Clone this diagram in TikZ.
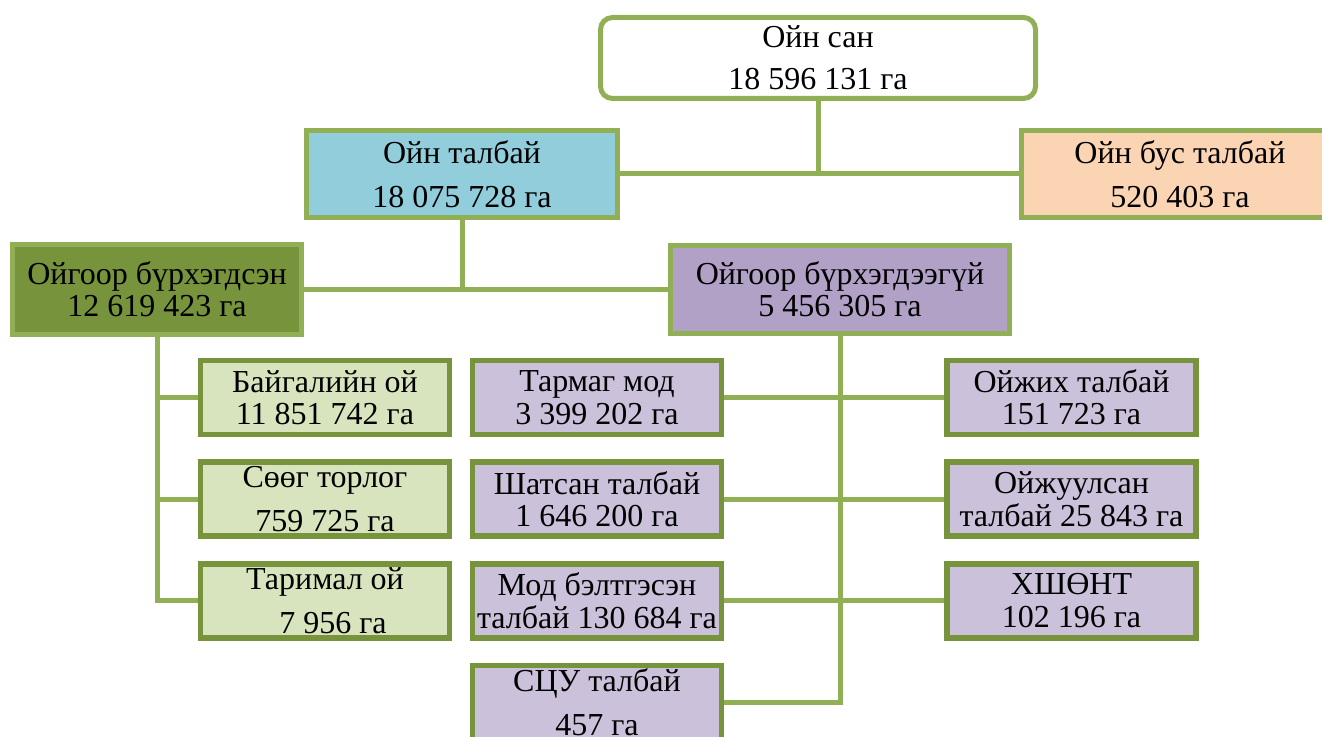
\documentclass[tikz,border=0pt]{standalone}
\usepackage{fontspec}
\setmainfont{Liberation Serif}
\usepackage{tikz}
\usetikzlibrary{positioning}

\definecolor{lgreen}{RGB}{145,175,85}
\definecolor{dgreen}{RGB}{119,147,60}
\definecolor{skyfill}{RGB}{146,205,220}
\definecolor{peachfill}{RGB}{251,212,180}
\definecolor{purpfill}{RGB}{178,161,199}
\definecolor{lpurpfill}{RGB}{204,193,218}
\definecolor{lgfill}{RGB}{215,228,189}

\tikzset{
  box/.style={draw=lgreen, line width=2.5pt, inner sep=0pt, align=center,
    font=\fontsize{16}{16.2}\selectfont},
  leaf/.style={box, draw=dgreen, line width=2.8pt,
    minimum width=124.5pt, minimum height=37pt},
  link/.style={draw=lgreen, line width=2.5pt}
}

\begin{document}
\begin{tikzpicture}[x=0.5pt,y=-0.5pt,node distance=50.8pt,on grid]
   \useasboundingbox (0,0) rectangle (1322,737);

   \node[box, fill=white, rounded corners=6pt, minimum width=217.5pt, minimum height=40.5pt]
     (top) at (818,58) {Ойн сан\\[5pt]18 596 131 га};
   \node[box, fill=skyfill, minimum width=155.5pt, minimum height=43.5pt]
     (forest) at (462,174) {Ойн талбай\\[6pt]18 075 728 га};
   \node[box, fill=peachfill, minimum width=158.5pt, minimum height=43.5pt]
     (nonforest) at (1180,174) {Ойн бус талбай\\[6pt]520 403 га};
   \node[box, fill=dgreen, minimum width=144.5pt, minimum height=45pt]
     (covered) at (157,289.5) {Ойгоор бүрхэгдсэн\\12 619 423 га};
   \node[box, fill=purpfill, minimum width=169.5pt, minimum height=44pt]
     (uncovered) at (840,289.5) {Ойгоор бүрхэгдээгүй\\5 456 305 га};

   % covered forest
   \node[leaf, fill=lgfill] (natural) at (325,397.5) {Байгалийн ой\\11 851 742 га};
   \node[leaf, fill=lgfill] (shrub)   [below=of natural] {Сөөг торлог\\[6pt]759 725 га};
   \node[leaf, fill=lgfill] (planted) [below=of shrub]   {Таримал ой\\[6pt]\enspace 7 956 га};

   % not covered
   \node[leaf, fill=lpurpfill] (sparse) at (597,397.5) {Тармаг мод\\3 399 202 га};
   \node[leaf, fill=lpurpfill] (burnt)  [below=of sparse] {Шатсан талбай\\1 646 200 га};
   \node[leaf, fill=lpurpfill] (logged) [below=of burnt]  {Мод бэлтгэсэн\\талбай 130 684 га};
   \node[leaf, fill=lpurpfill] (scu)    [below=of logged] {СЦУ талбай\\[6pt]457 га};

   \node[leaf, fill=lpurpfill] (regen)   at (1071.5,397.5) {Ойжих талбай\\151 723 га};
   \node[leaf, fill=lpurpfill] (refor)   [below=of regen]  {Ойжуулсан\\талбай 25 843 га};
   \node[leaf, fill=lpurpfill] (hshont)  [below=of refor]  {ХШӨНТ\\102 196 га};

   \path[link]
    (top.south) -- (top.south |- forest.east)
    (forest.east) -- (nonforest.west)
    (forest.south) -- (forest.south |- covered.east)
    (covered.east) -- (uncovered.west);
   \path[link]
    (covered.south) |- (natural.west)
    (covered.south) |- (shrub.west)
    (covered.south) |- (planted.west);
   \path[link]
    (uncovered.south) |- (sparse.east)
    (uncovered.south) |- (burnt.east)
    (uncovered.south) |- (logged.east)
    (uncovered.south) |- (scu.east)
    (uncovered.south) |- (regen.west)
    (uncovered.south) |- (refor.west)
    (uncovered.south) |- (hshont.west);
\end{tikzpicture}
\end{document}
